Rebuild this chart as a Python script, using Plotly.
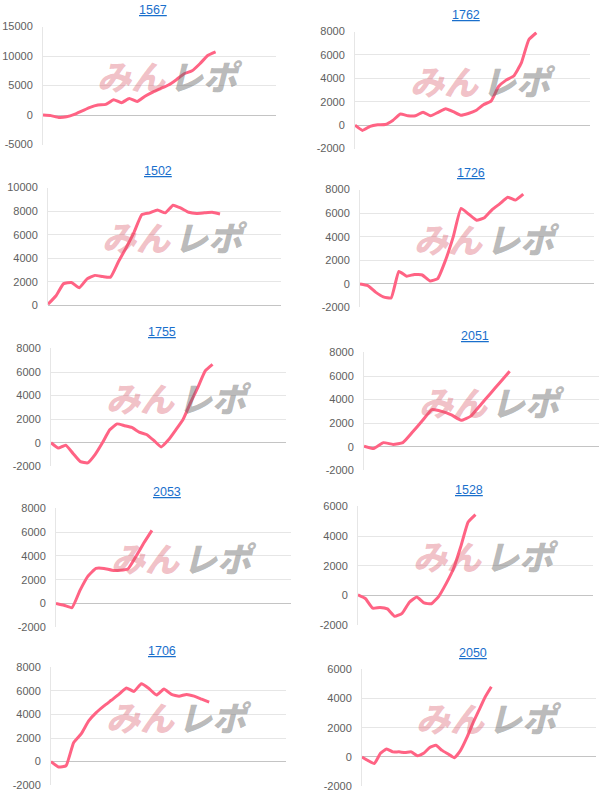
import plotly.graph_objects as go

# ---- data ----
titles = ["1567", "1762", "1502", "1726", "1755", "2051", "2053", "1528", "1706", "2050"]

v1567 = [0, -100, -400, -300, 100, 700, 1300, 1700, 1800, 2600, 2100, 2800, 2300,
         3200, 3900, 4500, 5100, 6000, 7000, 7500, 8700, 10100, 10700]
v1762 = [0, -450, -100, 30, 50, 400, 950, 800, 800, 1100, 800, 1100, 1400, 1150,
         850, 1000, 1250, 1750, 2050, 3300, 3850, 4200, 5300, 7300, 7900]
v1502 = [100, 800, 1850, 1950, 1500, 2250, 2550, 2450, 2400, 3700, 4900, 6200, 7700,
         7850, 8100, 7850, 8500, 8250, 7900, 7800, 7850, 7900, 7750]
v1726 = [0, -150, -700, -1100, -1200, 1050, 650, 800, 750, 250, 450, 2000, 4000,
         6400, 5900, 5400, 5600, 6300, 6800, 7350, 7100, 7600]
v1755 = [0, -450, -200, -900, -1600, -1700, -1000, 0, 1100, 1600, 1450, 1300, 900,
         700, 200, -350, 250, 1100, 2000, 3400, 4700, 6100, 6650]
v2051 = [50, -150, 350, 200, 350, 1250, 2200, 3150, 3000, 2700, 2250, 2600, 3550,
         4500, 5450, 6400]
v2053 = [0, -150, -350, 1100, 2300, 2950, 2950, 2800, 2800, 2900, 3950, 5100, 6150]
v1528 = [50, -200, -850, -800, -900, -1400, -1200, -450, -100, -500, -550, -50, 800,
         1800, 3300, 4950, 5450]
v1706 = [0, -450, -350, 1600, 2350, 3450, 4150, 4700, 5200, 5700, 6250, 5950, 6600,
         6200, 5650, 6150, 5700, 5550, 5700, 5550, 5300, 5050]
v2050 = [0, -250, -450, 250, 550, 350, 350, 300, 350, 80, 250, 650, 800, 450, 200,
         -50, 450, 1300, 2300, 3200, 4100, 4800]

series = [v1567, v1762, v1502, v1726, v1755, v2051, v2053, v1528, v1706, v2050]

y_min = [-5000, -2000, 0, -2000, -2000, -2000, -2000, -2000, -2000, -2000]
y_max = [15000, 8000, 10000, 8000, 8000, 8000, 8000, 6000, 8000, 6000]
y_step = [5000, 2000, 2000, 2000, 2000, 2000, 2000, 2000, 2000, 2000]
# x-axis extent in label units for each chart
x_extent = [29.7, 31.1, 29.8, 30.1, 32.0, 24.2, 29.4, 32.0, 31.2, 38.0]

# ---- layout (target pixel boxes of plot areas: left, right, top, bottom) ----
W, H = 614, 800
boxes = [
    (43, 276, 26, 144), (355, 590, 31, 148),
    (48, 281, 187, 305), (360, 594, 189, 307),
    (51, 286, 348, 466), (364, 599, 352, 470),
    (56, 291, 508, 627), (358, 593, 506, 625),
    (51, 286, 667, 785), (362, 596, 669, 786),
]
# vertical compensation for how the page gets photographed
V_OFF, V_K = 5.4, 0.9855


def fy(y):
    return (y - V_OFF) / V_K


LINE = "#ff6384"
GRID = "#e6e6e6"
TICK = "#606060"

fig = go.Figure()
layout = dict(
    width=W, height=H, margin=dict(l=0, r=0, t=0, b=0),
    paper_bgcolor="white", plot_bgcolor="white", showlegend=False,
    font=dict(family="Liberation Sans, Arial, sans-serif"),
)
annotations = []

for i, (name, vals) in enumerate(zip(titles, series)):
    sfx = "" if i == 0 else str(i + 1)
    l, r, t, b = boxes[i]
    t, b = fy(t), fy(b)
    fig.add_trace(go.Scatter(
        x=list(range(len(vals))), y=vals, mode="lines",
        line=dict(color=LINE, width=3, shape="spline", smoothing=0.4),
        xaxis="x" + sfx, yaxis="y" + sfx, hoverinfo="skip",
    ))
    tv = list(range(y_min[i], y_max[i] + 1, y_step[i]))
    layout["xaxis" + sfx] = dict(
        domain=[l / W, r / W], range=[0, x_extent[i]], anchor="y" + sfx,
        showgrid=False, zeroline=False, showticklabels=False, showline=False,
        fixedrange=True,
    )
    layout["yaxis" + sfx] = dict(
        domain=[1 - b / H, 1 - t / H], range=[y_min[i], y_max[i]], anchor="x" + sfx,
        tickvals=tv, ticktext=[str(v) for v in tv],
        showgrid=True, gridcolor=GRID, gridwidth=1,
        zeroline=True, zerolinecolor="#c4c4c4", zerolinewidth=1,
        showline=True, linecolor=GRID, linewidth=1,
        ticks="", ticklabelstandoff=7,
        tickfont=dict(size=11, color=TICK, family="Liberation Sans, Arial, sans-serif"),
        fixedrange=True,
    )
    xr = ("x" + sfx) + " domain"
    yr = ("y" + sfx) + " domain"
    # title
    annotations.append(dict(
        text=name, xref=xr, yref=yr, x=0.5, y=1, xshift=-6.5, yshift=16.3,
        xanchor="center", yanchor="middle", showarrow=False,
        font=dict(size=12.5, color="#1a6fcc", family="Liberation Sans, Arial, sans-serif",
                  lineposition="under"),
    ))
    # watermark
    annotations.append(dict(
        text="みん", xref=xr, yref=yr, x=0.5, y=0.5, xshift=8, yshift=10,
        xanchor="right", yanchor="middle", showarrow=False,
        font=dict(size=34, color="rgba(215,80,95,0.36)", family="Noto Sans CJK JP",
                  weight=900, style="italic"),
    ))
    annotations.append(dict(
        text="レポ", xref=xr, yref=yr, x=0.5, y=0.5, xshift=7, yshift=10,
        xanchor="left", yanchor="middle", showarrow=False,
        font=dict(size=34, color="rgba(100,100,100,0.45)", family="Noto Sans CJK JP",
                  weight=900, style="italic"),
    ))

layout["annotations"] = annotations
fig.update_layout(**layout)

fig.write_html(
    "out.html", config={"displayModeBar": False},
    post_script=("document.documentElement.style.margin='0';"
                 "document.body.style.margin='0';"
                 "document.body.style.overflow='hidden';"
                 "document.documentElement.style.overflow='hidden';"),
)
